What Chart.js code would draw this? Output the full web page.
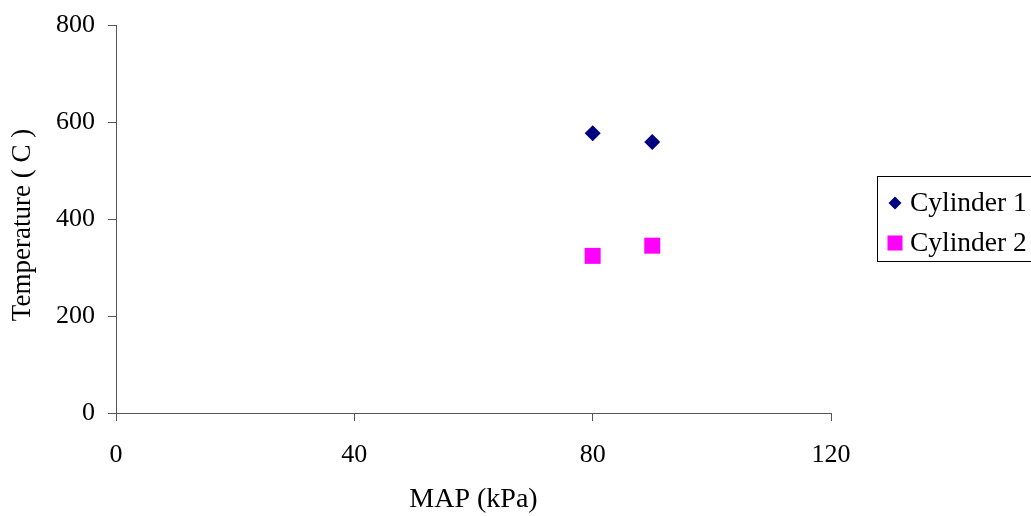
<!DOCTYPE html>
<html>
<head>
<meta charset="utf-8">
<script src="https://cdn.jsdelivr.net/npm/chart.js@4"></script>
<style>
  html, body { margin: 0; padding: 0; background: #fff; }
  #wrap { width: 1031px; height: 516px; }
</style>
</head>
<body>
<div id="wrap"><canvas id="c" width="1031" height="516"></canvas></div>
<script>
const seriesNames = ['Cylinder 1', 'Cylinder 2'];
const cyl1X = [80, 90];
const cyl1Y = [577, 559];
const cyl2X = [80, 90];
const cyl2Y = [324, 345];
const xTicks = [0, 40, 80, 120];
const yTicks = [0, 200, 400, 600, 800];
const xTitle = 'MAP (kPa)';
const yTitle = 'Temperature ( C )';

const FONT = "'Liberation Serif', 'Times New Roman', serif";
const AXIS = '#555555';

const toPts = (xs, ys) => xs.map((x, i) => ({x: x, y: ys[i]}));

const legendPlugin = {
  id: 'boxLegend',
  afterDraw(chart) {
    const ctx = chart.ctx;
    ctx.save();
    // y axis title
    ctx.save();
    ctx.translate(23, 225);
    ctx.rotate(-Math.PI / 2);
    ctx.font = '27px ' + FONT;
    ctx.fillStyle = '#000';
    ctx.textAlign = 'center';
    ctx.textBaseline = 'middle';
    ctx.fillText(yTitle, 0, 0);
    ctx.restore();
    // legend
    ctx.strokeStyle = '#000';
    ctx.lineWidth = 1;
    ctx.strokeRect(877.5, 176.5, 170, 85);
    ctx.font = '27.5px ' + FONT;
    ctx.fillStyle = '#000';
    ctx.textBaseline = 'middle';
    ctx.textAlign = 'left';
    const rows = [203, 243];
    chart.data.datasets.forEach((ds, i) => {
      const cy = rows[i];
      const cx = 895;
      ctx.fillStyle = ds.backgroundColor;
      if (ds.pointStyle === 'rectRot') {
        ctx.beginPath();
        ctx.moveTo(cx, cy - 6.5);
        ctx.lineTo(cx + 6.5, cy);
        ctx.lineTo(cx, cy + 6.5);
        ctx.lineTo(cx - 6.5, cy);
        ctx.closePath();
        ctx.fill();
      } else {
        ctx.fillRect(cx - 7.5, cy - 7.5, 15, 15);
      }
      ctx.fillStyle = '#000';
      ctx.fillText(ds.label, 910, cy + 1);
    });
    ctx.restore();
  }
};

new Chart(document.getElementById('c'), {
  type: 'scatter',
  data: {
    datasets: [
      {
        label: seriesNames[0],
        data: toPts(cyl1X, cyl1Y),
        pointStyle: 'rectRot',
        pointRadius: 8,
        pointHoverRadius: 8,
        backgroundColor: '#000080',
        borderColor: '#000080',
        borderWidth: 0
      },
      {
        label: seriesNames[1],
        data: toPts(cyl2X, cyl2Y),
        pointStyle: 'rect',
        pointRadius: 11.3,
        pointHoverRadius: 11.3,
        backgroundColor: '#FF00FF',
        borderColor: '#FF00FF',
        borderWidth: 0
      }
    ]
  },
  options: {
    responsive: false,
    animation: false,
    events: [],
    layout: { padding: { top: 25, right: 200, bottom: 0, left: 0 } },
    plugins: {
      legend: { display: false },
      tooltip: { enabled: false },
      title: { display: false }
    },
    scales: {
      x: {
        type: 'linear',
        min: 0, max: 120,
        afterBuildTicks(scale) { scale.ticks = xTicks.map(v => ({value: v})); },
        afterFit(scale) { scale.height = 103; scale.paddingLeft = 0; scale.paddingRight = 0; },
        grid: { display: true, drawOnChartArea: false, drawTicks: true, tickLength: 8, color: AXIS, lineWidth: 1 },
        border: { display: true, color: AXIS, width: 1 },
        ticks: { color: '#000', padding: 19, maxRotation: 0, font: { family: FONT, size: 26 } },
        title: { display: true, text: xTitle, color: '#000', padding: { top: 0, bottom: 0 }, font: { family: FONT, size: 28 } }
      },
      y: {
        type: 'linear',
        min: 0, max: 800,
        afterBuildTicks(scale) { scale.ticks = yTicks.map(v => ({value: v})); },
        afterFit(scale) { scale.width = 116; scale.paddingTop = 0; scale.paddingBottom = 0; },
        grid: { display: true, drawOnChartArea: false, drawTicks: true, tickLength: 8, color: AXIS, lineWidth: 1 },
        border: { display: true, color: AXIS, width: 1 },
        ticks: { color: '#000', padding: 13, font: { family: FONT, size: 26 } },
        title: { display: false, text: yTitle }
      }
    }
  },
  plugins: [legendPlugin]
});
</script>
</body>
</html>
